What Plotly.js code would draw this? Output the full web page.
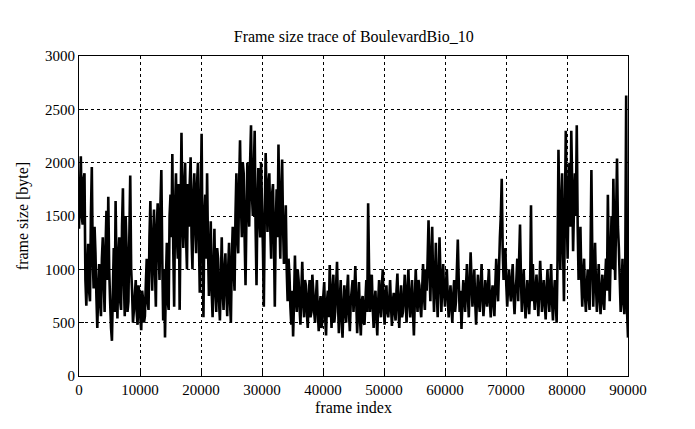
<!DOCTYPE html>
<html>
<head>
<meta charset="utf-8">
<script src="https://cdn.plot.ly/plotly-3.0.1.min.js"></script>
<style>html,body{margin:0;padding:0;background:#fff;}#chart{width:695px;height:429px;}</style>
</head>
<body>
<div id="chart"></div>
<script>
// frame index sampled every 150 frames
const frameStep = 150;
// frame sizes [byte]
const frameSizes = [
  1380,1700,2060,1500,1420,1850,1900,900,660,1000,1240,800,700,1500,1960,1100,820,1400,1150,750,
  450,800,1050,700,560,1100,1300,900,600,1200,1550,900,1680,1000,700,450,330,800,1200,600,
  1640,1000,540,1100,1300,700,620,1400,1760,900,560,1500,1200,600,700,1300,1880,1000,800,500,
  620,750,900,600,480,850,780,550,430,800,720,500,560,850,1100,700,620,1300,1640,1100,
  800,1300,1560,1000,650,1400,1620,1200,900,1600,1930,1100,520,1000,360,900,1250,700,620,1500,
  1700,1300,2080,1200,650,1600,1900,1300,1100,1800,620,1500,2280,1500,1200,1800,2000,1300,1000,1800,
  1400,1800,2050,1300,1000,1700,1900,1400,1150,1800,2000,1300,780,1600,2270,1200,550,1500,1700,1100,
  1900,1200,750,1100,1450,800,550,1000,1380,800,600,1200,1100,700,520,900,1300,800,620,1000,
  1150,800,560,1000,1250,700,500,1100,1400,1000,800,1500,1900,1300,1150,1800,2210,1600,1300,2000,
  1900,1300,850,1500,2000,1600,1400,2000,2350,1700,1500,1900,2300,1400,850,1600,1950,1500,1300,2000,
  1600,1200,650,1500,2090,1700,1350,1800,1900,1400,1100,1700,1800,1300,650,1400,1750,1300,2170,1500,
  1100,1700,2030,1400,1050,1300,1600,1000,700,1100,950,650,480,800,370,700,1130,750,600,1000,
  900,650,480,800,1070,700,550,900,850,600,450,750,900,550,600,950,800,600,500,750,
  900,600,420,650,750,450,520,750,880,550,380,700,800,550,1040,700,450,800,950,500,
  600,850,1070,700,400,700,900,550,360,650,850,600,500,800,950,600,420,700,800,900,
  600,800,1030,700,400,650,880,550,380,700,750,500,480,700,900,600,1620,1000,600,750,
  950,650,450,700,800,550,380,700,900,650,550,850,1000,650,480,750,850,600,550,700,
  900,650,470,700,780,600,520,800,960,650,450,700,850,550,600,750,950,700,500,800,
  1000,700,550,750,900,600,380,700,1000,750,600,900,850,650,550,800,1050,750,620,1000,
  800,1100,1460,1000,700,1100,1400,900,600,900,1250,800,550,900,1300,950,600,850,1050,800,
  650,850,1000,750,550,700,850,650,500,750,900,600,700,1000,1280,900,600,800,440,700,
  900,750,600,850,1050,750,550,850,1160,900,650,800,1000,700,480,750,950,700,600,850,
  1050,750,560,700,900,750,650,850,1000,700,550,750,850,700,560,850,1100,850,700,1000,
  1300,1500,1850,1200,900,1000,1200,850,650,850,1000,800,700,900,1050,750,580,800,900,1100,
  700,1100,1420,900,600,800,1000,750,540,700,900,750,580,800,1600,700,1050,800,620,800,
  950,750,560,800,1080,850,600,750,900,700,530,800,1000,750,600,850,1050,700,520,750,
  900,700,500,1100,2120,1500,1000,1600,1900,1200,700,1500,2300,1600,1100,1700,2000,1400,2300,1800,
  1170,1600,1900,1500,2350,1400,900,1100,1400,900,650,950,1100,750,600,850,1000,750,620,1100,
  1930,1100,650,950,1250,850,600,800,1050,750,580,800,950,700,620,900,1100,800,1700,1100,
  700,1100,1500,1000,1850,1300,900,1500,2040,1400,1200,900,600,800,1100,700,580,1000,2630,600,
  360
];
const frameIndex = frameSizes.map((_, i) => i * frameStep);

const xTicks = [0, 10000, 20000, 30000, 40000, 50000, 60000, 70000, 80000, 90000];
const yTicks = [0, 500, 1000, 1500, 2000, 2500, 3000];

const serif = "'Liberation Serif', 'DejaVu Serif', serif";

const trace = {
  x: frameIndex,
  y: frameSizes,
  type: 'scatter',
  mode: 'lines',
  line: {color: '#000000', width: 2.6, simplify: false},
  hoverinfo: 'skip'
};

const axisCommon = {
  showline: true,
  mirror: true,
  linecolor: '#000000',
  linewidth: 1,
  showgrid: true,
  gridcolor: '#000000',
  gridwidth: 1,
  griddash: 'dot',
  zeroline: false,
  ticks: 'inside',
  ticklen: 5,
  tickcolor: '#000000',
  tickfont: {family: serif, size: 15, color: '#000000'}
};

const layout = {
  width: 695,
  height: 429,
  margin: {l: 79, r: 67, t: 56, b: 53},
  paper_bgcolor: '#ffffff',
  plot_bgcolor: '#ffffff',
  showlegend: false,
  title: {
    text: 'Frame size trace of BoulevardBio_10',
    font: {family: serif, size: 16, color: '#000000'},
    x: 0.509, xanchor: 'center',
    y: 0.915, yanchor: 'middle'
  },
  xaxis: Object.assign({}, axisCommon, {
    range: [0, 90000],
    tickvals: xTicks,
    ticktext: xTicks.map(String),
    title: {text: 'frame index', font: {family: serif, size: 16, color: '#000000'}, standoff: 4}
  }),
  yaxis: Object.assign({}, axisCommon, {
    range: [0, 3000],
    tickvals: yTicks,
    ticktext: yTicks.map(String),
    title: {text: 'frame size [byte]', font: {family: serif, size: 16, color: '#000000'}, standoff: 12}
  })
};

Plotly.newPlot('chart', [trace], layout, {displayModeBar: false, staticPlot: true});
</script>
</body>
</html>
